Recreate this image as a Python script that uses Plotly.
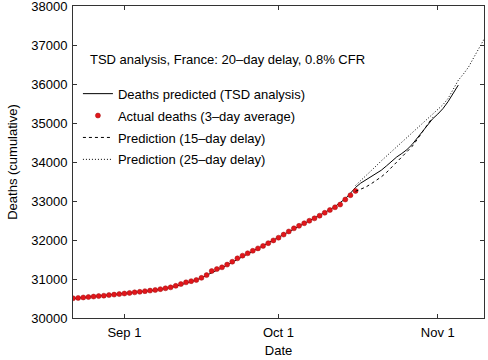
import pandas as pd
import plotly.graph_objects as go

start = pd.Timestamp("2020-08-22")

# Actual deaths (3-day average), daily from Aug 22 to Oct 16
actual = [30505, 30515, 30527, 30538, 30550, 30562, 30573, 30588, 30600, 30614,
          30628, 30643, 30658, 30672, 30688, 30703, 30718, 30740, 30762, 30786,
          30825, 30870, 30915, 30945, 30974, 31030, 31100, 31205, 31255, 31300,
          31370, 31444, 31530, 31600, 31660, 31725, 31786, 31850, 31920, 31990,
          32060, 32140, 32220, 32300, 32365, 32430, 32495, 32556, 32625, 32700,
          32770, 32840, 32910, 33040, 33150, 33260]

# TSD predicted deaths (20-day delay), daily from Aug 22 to Nov 5
predicted = [30500, 30512, 30524, 30536, 30548, 30560, 30572, 30585, 30598, 30611,
             30625, 30639, 30653, 30668, 30683, 30699, 30716, 30735, 30757, 30782,
             30812, 30848, 30888, 30930, 30975, 31030, 31090, 31160, 31225, 31290,
             31360, 31430, 31500, 31570, 31640, 31710, 31780, 31850, 31920, 31990,
             32060, 32130, 32200, 32275, 32345, 32415, 32485, 32555, 32625, 32700,
             32780, 32860, 32950, 33060, 33200, 33350, 33460, 33540, 33610, 33690,
             33790, 33900, 34020, 34130, 34220, 34320, 34450, 34620, 34800, 34970,
             35110, 35230, 35370, 35550, 35760, 35975]

# Prediction with 15-day delay, daily from Oct 16 to Oct 31
pred15 = [33250, 33300, 33360, 33440, 33520, 33620, 33730, 33860, 33990, 34120,
          34250, 34400, 34580, 34780, 34980, 35150]

# Prediction with 25-day delay, daily from Oct 16 to Nov 10
pred25 = [33400, 33520, 33640, 33770, 33900, 34030, 34150, 34270, 34390, 34510,
          34630, 34750, 34870, 34990, 35110, 35230, 35350, 35470, 35630, 35850,
          36100, 36260, 36440, 36680, 36920, 37150]

d_actual = pd.date_range(start, periods=len(actual), freq="D")
d_pred = pd.date_range(start, periods=len(predicted), freq="D")
d_15 = pd.date_range("2020-10-16", periods=len(pred15), freq="D")
d_25 = pd.date_range("2020-10-16", periods=len(pred25), freq="D")

x_tickvals = ["2020-09-01", "2020-10-01", "2020-11-01"]
x_ticktext = ["Sep 1", "Oct 1", "Nov 1"]
y_tickvals = [30000, 31000, 32000, 33000, 34000, 35000, 36000, 37000, 38000]
y_ticktext = [str(v) for v in y_tickvals]

FONT = "Liberation Sans, Arial, Helvetica, sans-serif"

fig = go.Figure()
fig.add_trace(go.Scatter(x=d_pred, y=predicted, mode="lines",
                         name="Deaths predicted (TSD analysis)",
                         line=dict(color="black", width=1), legendgroup="a"))
fig.add_trace(go.Scatter(x=d_actual, y=actual, mode="markers",
                         name="Actual deaths (3\u2013day average)",
                         marker=dict(color="#e2161b", size=5,
                                     line=dict(color="#a01010", width=0.5)),
                         legendgroup="b"))
fig.add_trace(go.Scatter(x=d_15, y=pred15, mode="lines",
                         name="Prediction (15\u2013day delay)",
                         line=dict(color="black", width=1, dash="3px,3px"),
                         legendgroup="c"))
fig.add_trace(go.Scatter(x=d_25, y=pred25, mode="lines",
                         name="Prediction (25\u2013day delay)",
                         line=dict(color="black", width=1, dash="1px,2px"),
                         legendgroup="d"))

fig.add_annotation(text="TSD analysis, France: 20\u2013day delay, 0.8% CFR",
                   xref="paper", yref="paper", x=0.036, y=0.827,
                   xanchor="left", yanchor="middle", showarrow=False,
                   font=dict(size=13, color="black", family=FONT))

fig.update_layout(
    width=488, height=360,
    margin=dict(l=73, r=4, t=6, b=42, autoexpand=False),
    paper_bgcolor="white", plot_bgcolor="white",
    font=dict(family=FONT, size=13, color="black"),
    showlegend=True,
    legend=dict(x=0.012, y=0.767, xanchor="left", yanchor="top",
                bgcolor="rgba(0,0,0,0)", font=dict(size=13, family=FONT),
                traceorder="grouped", tracegroupgap=2),
    xaxis=dict(type="date", range=["2020-08-22", "2020-11-10"],
               tickvals=x_tickvals, ticktext=x_ticktext,
               ticks="inside", ticklen=4, tickcolor="#333",
               showline=True, linecolor="#333", linewidth=1, mirror="ticks",
               showgrid=False, zeroline=False, automargin=False,
               title=dict(text="Date", standoff=7, font=dict(size=13)),
               tickfont=dict(size=13), ticklabelstandoff=2),
    yaxis=dict(range=[30000, 38004], tickvals=y_tickvals, ticktext=y_ticktext,
               ticks="inside", ticklen=4, tickcolor="#333",
               showline=True, linecolor="#333", linewidth=1, mirror="ticks",
               showgrid=False, zeroline=False, automargin=False,
               title=dict(text="Deaths (cumulative)", standoff=10, font=dict(size=13)),
               tickfont=dict(size=13), ticklabelstandoff=2,
               ticklabeloverflow="allow"),
)

fig.write_html("out.html", config={"displayModeBar": False},
               post_script="document.body.style.margin='0px';")
